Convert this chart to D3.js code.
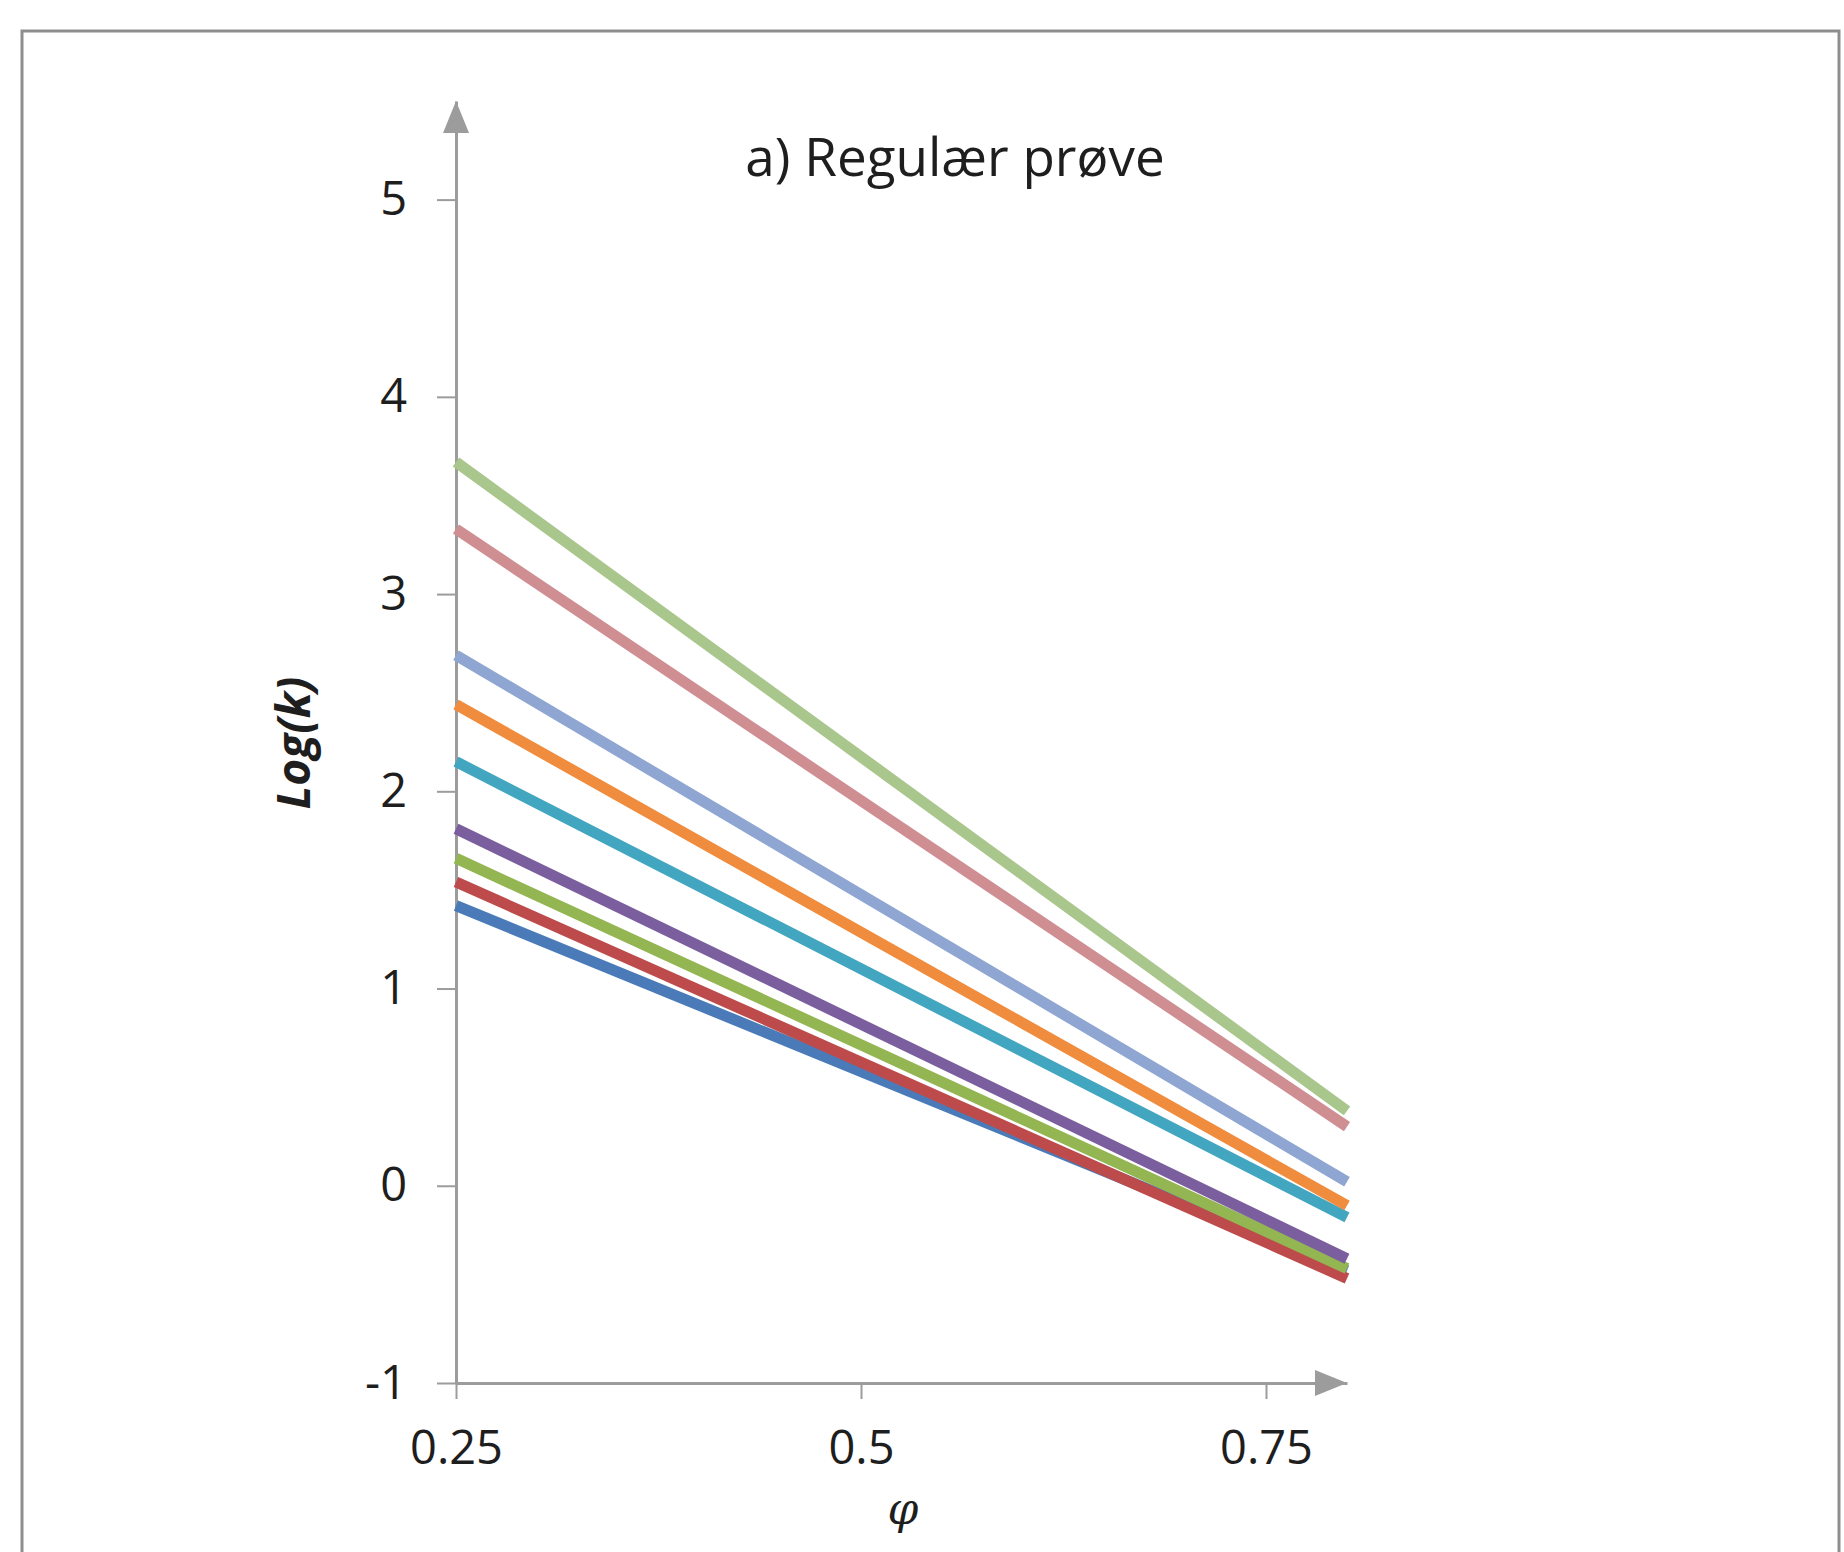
<!DOCTYPE html>
<html>
<head>
<meta charset="utf-8">
<script src="https://cdn.jsdelivr.net/npm/d3@7"></script>
<style>
  html, body { margin: 0; padding: 0; background: #ffffff; }
  svg { display: block; }
</style>
</head>
<body>
<svg id="chart" width="1844" height="1552"></svg>
<script>
// ---- data ----
const seriesNames = ["S1", "S2", "S3", "S4", "S5", "S6", "S7", "S8", "S9"];
const seriesColors = ["#4a7bb8", "#bd4b4b", "#93b552", "#7a5e9e", "#43a6c0", "#f08c3e", "#8fa6d3", "#cf8e92", "#a9c68c"];
const phiValues = [0.25, 0.8];
const logkStart = [1.42, 1.54, 1.66, 1.81, 2.15, 2.44, 2.69, 3.33, 3.67];
const logkEnd   = [-0.43, -0.47, -0.42, -0.37, -0.16, -0.10, 0.02, 0.30, 0.38];
const xTicks = [0.25, 0.5, 0.75];
const xTickLabels = ["0.25", "0.5", "0.75"];
const yTicks = [-1, 0, 1, 2, 3, 4, 5];
const yTickLabels = ["-1", "0", "1", "2", "3", "4", "5"];
const titleText = "a) Regulær prøve";
const xTitle = "φ";
const yTitle = "Log(k)";

// ---- drawing ----
const svg = d3.select("#chart");
const axisColor = "#9c9c9c";
const textColor = "#1e1e1e";

// outer frame
svg.append("rect")
  .attr("x", 22).attr("y", 31)
  .attr("width", 1817).attr("height", 1600)
  .attr("fill", "#ffffff")
  .attr("stroke", "#8e8e8e").attr("stroke-width", 3);

const x = d3.scaleLinear().domain([0.25, 0.8]).range([456, 1347]);
const y = d3.scaleLinear().domain([-1, 5.5]).range([1383, 101]);

// y axis
const yAxis = d3.axisLeft(y).tickValues(yTicks).tickFormat((d, i) => yTickLabels[i])
  .tickSizeInner(19).tickSizeOuter(0).tickPadding(30);
const gy = svg.append("g").attr("transform", `translate(${x(0.25)},0)`).call(yAxis);
gy.select(".domain").attr("stroke", axisColor).attr("stroke-width", 3);
gy.selectAll(".tick line").attr("stroke", axisColor).attr("stroke-width", 2);
gy.selectAll(".tick text")
  .attr("fill", textColor)
  .style("font-family", "'Open Sans', sans-serif")
  .style("font-size", "47px");

// x axis
const xAxis = d3.axisBottom(x).tickValues(xTicks)
  .tickFormat((d, i) => xTickLabels[i])
  .tickSizeInner(16).tickSizeOuter(0).tickPadding(32);
const gx = svg.append("g").attr("transform", `translate(0,${y(-1)})`).call(xAxis);
gx.select(".domain").attr("stroke", axisColor).attr("stroke-width", 3);
gx.selectAll(".tick line").attr("stroke", axisColor).attr("stroke-width", 2);
gx.selectAll(".tick text")
  .attr("fill", textColor)
  .style("font-family", "'Open Sans', sans-serif")
  .style("font-size", "47px");

// arrowheads
const xEnd = x.range()[1], yTop = y.range()[1];
svg.append("path")
  .attr("d", `M${xEnd},${y(-1)} L${xEnd - 32},${y(-1) - 13} L${xEnd - 32},${y(-1) + 13} Z`)
  .attr("fill", axisColor);
svg.append("path")
  .attr("d", `M${x(0.25)},${yTop} L${x(0.25) - 13},${yTop + 32} L${x(0.25) + 13},${yTop + 32} Z`)
  .attr("fill", axisColor);

// series lines
const line = d3.line().x(d => x(d[0])).y(d => y(d[1]));
const seriesData = seriesNames.map((name, i) => ({
  name,
  color: seriesColors[i],
  pts: [[phiValues[0], logkStart[i]], [phiValues[1], logkEnd[i]]]
}));
svg.append("g").selectAll("path").data(seriesData).join("path")
  .attr("d", d => line(d.pts))
  .attr("fill", "none")
  .attr("stroke", d => d.color)
  .attr("stroke-width", 11);

// title
svg.append("text")
  .attr("x", 955).attr("y", 176)
  .attr("text-anchor", "middle")
  .attr("fill", textColor)
  .style("font-family", "'Open Sans', sans-serif")
  .style("font-size", "53px")
  .text(titleText);

// x title
svg.append("text")
  .attr("x", 903).attr("y", 1524)
  .attr("text-anchor", "middle")
  .attr("fill", textColor)
  .style("font-family", "'DejaVu Serif', serif")
  .style("font-style", "italic")
  .style("font-size", "44px")
  .text(xTitle);

// y title
svg.append("text")
  .attr("transform", "translate(310,743) rotate(-90)")
  .attr("text-anchor", "middle")
  .attr("fill", textColor)
  .style("font-family", "'Open Sans', sans-serif")
  .style("font-style", "italic")
  .style("font-weight", "bold")
  .style("font-size", "46px")
  .text(yTitle);
</script>
</body>
</html>
